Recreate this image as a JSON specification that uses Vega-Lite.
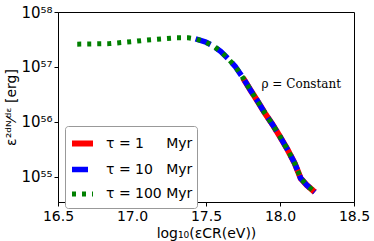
{
  "$schema": "https://vega.github.io/schema/vega-lite/v6.json",
  "width": 296,
  "height": 190,
  "autosize": {"type": "none"},
  "padding": {"left": 58, "top": 12, "right": 20, "bottom": 39},
  "config": {
    "view": {"stroke": "#000000", "strokeWidth": 1},
    "font": "DejaVu Sans",
    "axis": {"domainColor": "#000", "tickColor": "#000", "labelColor": "#000", "titleColor": "#000", "grid": false, "titleFontWeight": "normal"}
  },
  "layer": [
    {
      "data": {"values": [
        {"series": "τ = 1\u00a0\u00a0\u00a0\u00a0\u00a0Myr", "x": 17.75, "y": 6.31e56},
        {"series": "τ = 1\u00a0\u00a0\u00a0\u00a0\u00a0Myr", "x": 17.8, "y": 3.80e56},
        {"series": "τ = 1\u00a0\u00a0\u00a0\u00a0\u00a0Myr", "x": 17.85, "y": 2.34e56},
        {"series": "τ = 1\u00a0\u00a0\u00a0\u00a0\u00a0Myr", "x": 17.9, "y": 1.41e56},
        {"series": "τ = 1\u00a0\u00a0\u00a0\u00a0\u00a0Myr", "x": 17.95, "y": 8.91e55},
        {"series": "τ = 1\u00a0\u00a0\u00a0\u00a0\u00a0Myr", "x": 18.0, "y": 5.37e55},
        {"series": "τ = 1\u00a0\u00a0\u00a0\u00a0\u00a0Myr", "x": 18.05, "y": 3.16e55},
        {"series": "τ = 1\u00a0\u00a0\u00a0\u00a0\u00a0Myr", "x": 18.1, "y": 1.74e55},
        {"series": "τ = 1\u00a0\u00a0\u00a0\u00a0\u00a0Myr", "x": 18.14, "y": 9.33e54},
        {"series": "τ = 1\u00a0\u00a0\u00a0\u00a0\u00a0Myr", "x": 18.18, "y": 7.08e54},
        {"series": "τ = 1\u00a0\u00a0\u00a0\u00a0\u00a0Myr", "x": 18.235, "y": 5.25e54},

        {"series": "τ = 10\u00a0\u00a0\u00a0Myr", "x": 17.43, "y": 3.24e57},
        {"series": "τ = 10\u00a0\u00a0\u00a0Myr", "x": 17.5, "y": 2.82e57},
        {"series": "τ = 10\u00a0\u00a0\u00a0Myr", "x": 17.55, "y": 2.40e57},
        {"series": "τ = 10\u00a0\u00a0\u00a0Myr", "x": 17.6, "y": 1.91e57},
        {"series": "τ = 10\u00a0\u00a0\u00a0Myr", "x": 17.65, "y": 1.41e57},
        {"series": "τ = 10\u00a0\u00a0\u00a0Myr", "x": 17.7, "y": 1.0e57},
        {"series": "τ = 10\u00a0\u00a0\u00a0Myr", "x": 17.75, "y": 6.31e56},
        {"series": "τ = 10\u00a0\u00a0\u00a0Myr", "x": 17.8, "y": 3.80e56},
        {"series": "τ = 10\u00a0\u00a0\u00a0Myr", "x": 17.85, "y": 2.34e56},
        {"series": "τ = 10\u00a0\u00a0\u00a0Myr", "x": 17.9, "y": 1.41e56},
        {"series": "τ = 10\u00a0\u00a0\u00a0Myr", "x": 17.95, "y": 8.91e55},
        {"series": "τ = 10\u00a0\u00a0\u00a0Myr", "x": 18.0, "y": 5.37e55},
        {"series": "τ = 10\u00a0\u00a0\u00a0Myr", "x": 18.05, "y": 3.16e55},
        {"series": "τ = 10\u00a0\u00a0\u00a0Myr", "x": 18.1, "y": 1.74e55},
        {"series": "τ = 10\u00a0\u00a0\u00a0Myr", "x": 18.14, "y": 9.33e54},
        {"series": "τ = 10\u00a0\u00a0\u00a0Myr", "x": 18.18, "y": 7.08e54},
        {"series": "τ = 10\u00a0\u00a0\u00a0Myr", "x": 18.235, "y": 5.25e54},

        {"series": "τ = 100 Myr", "x": 16.63, "y": 2.60e57},
        {"series": "τ = 100 Myr", "x": 16.75, "y": 2.63e57},
        {"series": "τ = 100 Myr", "x": 16.85, "y": 2.66e57},
        {"series": "τ = 100 Myr", "x": 17.0, "y": 2.88e57},
        {"series": "τ = 100 Myr", "x": 17.1, "y": 3.09e57},
        {"series": "τ = 100 Myr", "x": 17.2, "y": 3.24e57},
        {"series": "τ = 100 Myr", "x": 17.3, "y": 3.39e57},
        {"series": "τ = 100 Myr", "x": 17.38, "y": 3.39e57},
        {"series": "τ = 100 Myr", "x": 17.43, "y": 3.24e57},
        {"series": "τ = 100 Myr", "x": 17.5, "y": 2.82e57},
        {"series": "τ = 100 Myr", "x": 17.55, "y": 2.40e57},
        {"series": "τ = 100 Myr", "x": 17.6, "y": 1.91e57},
        {"series": "τ = 100 Myr", "x": 17.65, "y": 1.41e57},
        {"series": "τ = 100 Myr", "x": 17.7, "y": 1.0e57},
        {"series": "τ = 100 Myr", "x": 17.75, "y": 6.31e56},
        {"series": "τ = 100 Myr", "x": 17.8, "y": 3.80e56},
        {"series": "τ = 100 Myr", "x": 17.85, "y": 2.34e56},
        {"series": "τ = 100 Myr", "x": 17.9, "y": 1.41e56},
        {"series": "τ = 100 Myr", "x": 17.95, "y": 8.91e55},
        {"series": "τ = 100 Myr", "x": 18.0, "y": 5.37e55},
        {"series": "τ = 100 Myr", "x": 18.05, "y": 3.16e55},
        {"series": "τ = 100 Myr", "x": 18.1, "y": 1.74e55},
        {"series": "τ = 100 Myr", "x": 18.14, "y": 9.33e54},
        {"series": "τ = 100 Myr", "x": 18.18, "y": 7.08e54},
        {"series": "τ = 100 Myr", "x": 18.235, "y": 5.25e54}
      ]},
      "mark": {"type": "line", "strokeCap": "butt", "strokeJoin": "round"},
      "encoding": {
        "x": {"field": "x", "type": "quantitative",
          "scale": {"domain": [16.5, 18.5], "nice": false, "zero": false},
          "axis": {"values": [16.5, 17.0, 17.5, 18.0, 18.5], "format": ".1f", "title": "log₁₀(εCR(eV))", "labelFontSize": 14, "titleFontSize": 14, "tickSize": 4, "labelPadding": 3, "titlePadding": 3, "labelFlush": false}},
        "y": {"field": "y", "type": "quantitative",
          "scale": {"type": "log", "domain": [3.47e54, 1e58], "nice": false},
          "axis": {"values": [1e55, 1e56, 1e57, 1e58],
            "labelExpr": "datum.value > 5e57 ? '10⁵⁸' : datum.value > 5e56 ? '10⁵⁷' : datum.value > 5e55 ? '10⁵⁶' : '10⁵⁵'",
            "title": "ε²ᵈᴺ⁄ᵈᵋ [erg]", "labelFontSize": 15, "titleFontSize": 14, "tickSize": 4, "labelPadding": 2, "titlePadding": 2}},
        "color": {"field": "series", "type": "nominal",
          "scale": {"domain": ["τ = 1\u00a0\u00a0\u00a0\u00a0\u00a0Myr", "τ = 10\u00a0\u00a0\u00a0Myr", "τ = 100 Myr"], "range": ["#ff0000", "#0000ff", "#008000"]},
          "legend": {"title": null, "orient": "none", "legendX": 7, "legendY": 114,
            "fillColor": "#ffffff", "strokeColor": "#999999", "cornerRadius": 3, "padding": 4,
            "symbolType": "stroke", "symbolSize": 441, "symbolStrokeWidth": 5,
            "labelFontSize": 14, "labelColor": "#000", "rowPadding": 0, "labelOffset": 10}},
        "strokeDash": {"field": "series", "type": "nominal",
          "scale": {"domain": ["τ = 1\u00a0\u00a0\u00a0\u00a0\u00a0Myr", "τ = 10\u00a0\u00a0\u00a0Myr", "τ = 100 Myr"], "range": [[1, 0], [16, 6], [4, 6]]},
          "legend": {"title": null}},
        "strokeWidth": {"field": "series", "type": "nominal",
          "scale": {"domain": ["τ = 1\u00a0\u00a0\u00a0\u00a0\u00a0Myr", "τ = 10\u00a0\u00a0\u00a0Myr", "τ = 100 Myr"], "range": [6, 5, 4.5]},
          "legend": null}
      }
    },
    {
      "data": {"values": [{"x": 17.875, "y": 4.8e56, "label": "ρ = Constant"}]},
      "mark": {"type": "text", "align": "left", "baseline": "middle", "font": "DejaVu Serif", "fontSize": 12, "color": "#000"},
      "encoding": {
        "x": {"field": "x", "type": "quantitative"},
        "y": {"field": "y", "type": "quantitative"},
        "text": {"field": "label"}
      }
    }
  ]
}
